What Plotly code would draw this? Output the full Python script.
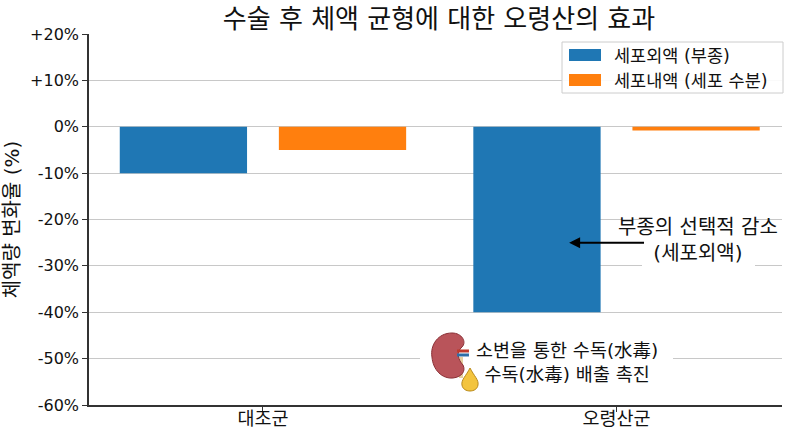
import plotly.graph_objects as go

# data
groups = ["대조군", "오령산군"]
ecf_change = [-10, -40]      # 세포외액 (부종)
icf_change = [-5, -0.8]      # 세포내액 (세포 수분)
series_names = ["세포외액 (부종)", "세포내액 (세포 수분)"]
y_ticks = [20, 10, 0, -10, -20, -30, -40, -50, -60]
y_tick_text = ["+20%", "+10%", "0%", "-10%", "-20%", "-30%", "-40%", "-50%", "-60%"]

FONT = "DejaVu Sans, Noto Sans CJK KR, sans-serif"
BLUE = "#1f77b4"
ORANGE = "#ff7f0e"
colors = [BLUE, ORANGE]

W, H = 800, 436
# plot area in pixels
PX_L, PX_R, PX_T, PX_B = 89, 782, 34, 405


def px(x):
    return (x - PX_L) / (PX_R - PX_L)


def py(y):
    return (PX_B - y) / (PX_B - PX_T)


def P(x, y):
    """pixel -> paper coords string for svg paths"""
    return f"{px(x):.4f},{py(y):.4f}"


fig = go.Figure()
fig.add_trace(go.Bar(x=groups, y=ecf_change, name=series_names[0],
                     marker=dict(color=BLUE, line=dict(width=0))))
fig.add_trace(go.Bar(x=groups, y=icf_change, name=series_names[1],
                     marker=dict(color=ORANGE, line=dict(width=0))))

# white patches behind the annotation texts (they hide the grid like in the original)
shapes = [
    dict(type="rect", xref="paper", yref="paper", x0=px(642), x1=px(755), y0=py(276), y1=py(206),
         fillcolor="white", line=dict(width=0), layer="above"),
    dict(type="rect", xref="paper", yref="paper", x0=px(420), x1=px(673), y0=py(396), y1=py(328),
         fillcolor="white", line=dict(width=0), layer="above"),
]

# kidney icon + drop
kidney = (f"M{P(452,333)} C{P(438,333)} {P(430,345)} {P(432,357)} "
          f"C{P(433,370)} {P(442,379)} {P(453,378)} "
          f"C{P(462,377)} {P(466,371)} {P(463,365)} "
          f"C{P(458,360)} {P(456,352)} {P(462,347)} "
          f"C{P(467,342)} {P(462,333)} {P(452,333)} Z")
drop = (f"M{P(470,368)} C{P(466,376)} {P(461,380)} {P(462,385)} "
        f"C{P(463,393)} {P(477,393)} {P(478,385)} "
        f"C{P(479,380)} {P(474,376)} {P(470,368)} Z")
shapes += [
    dict(type="path", path=f"M{P(461,357)} L{P(461,378)}", xref="paper", yref="paper",
         line=dict(color="#e6cfa0", width=4), layer="above"),
    dict(type="path", path=kidney, xref="paper", yref="paper",
         fillcolor="#b9545a", line=dict(color="#8a3036", width=1), layer="above"),
    dict(type="path", path=f"M{P(457,351)} L{P(469,351)}", xref="paper", yref="paper",
         line=dict(color="#c0392b", width=3), layer="above"),
    dict(type="path", path=f"M{P(457,355)} L{P(469,355)}", xref="paper", yref="paper",
         line=dict(color="#2e6ea6", width=3), layer="above"),
    dict(type="path", path=drop, xref="paper", yref="paper",
         fillcolor="#f3c43e", line=dict(color="#b8891c", width=1), layer="above"),
]

# legend box drawn by hand so the swatches are wide bars like the original
shapes.append(dict(type="rect", xref="paper", yref="paper", x0=px(562), x1=px(783),
                   y0=py(93), y1=py(42), fillcolor="rgba(255,255,255,0.9)",
                   line=dict(color="#cccccc", width=1), layer="above"))
annotations = []
for i, (name, col) in enumerate(zip(series_names, colors)):
    yc = 55 + 25 * i
    shapes.append(dict(type="rect", xref="paper", yref="paper", x0=px(569), x1=px(601),
                       y0=py(yc + 6), y1=py(yc - 6), fillcolor=col,
                       line=dict(width=0), layer="above"))
    annotations.append(dict(x=px(612), y=py(yc + 1), xref="paper", yref="paper",
                            xanchor="left", yanchor="middle", text=name, showarrow=False,
                            font=dict(family=FONT, size=17.5, color="#111")))

annotations += [
    # arrow
    dict(x=0.866, y=-25, ax=1.082, ay=-25, xref="x", yref="y", axref="x", ayref="y",
         text="", showarrow=True, arrowhead=2, arrowsize=1.1, arrowwidth=2,
         arrowcolor="black"),
    dict(x=1.23, y=-24.4, xref="x", yref="y", text="부종의 선택적 감소<br>(세포외액)",
         showarrow=False, font=dict(family=FONT, size=20, color="#111")),
    dict(x=0.86, y=-50.9, xref="x", yref="y",
         text="소변을 통한 수독(水毒)<br>수독(水毒) 배출 촉진",
         showarrow=False, font=dict(family=FONT, size=18.5, color="#111")),
]

fig.update_layout(
    width=W, height=H,
    margin=dict(l=PX_L, r=W - PX_R, t=PX_T, b=H - PX_B, autoexpand=False),
    paper_bgcolor="white", plot_bgcolor="white",
    font=dict(family=FONT, color="#111"),
    title=dict(text="수술 후 체액 균형에 대한 오령산의 효과",
               x=439 / W, xanchor="center",
               y=1 - 18.5 / H, yanchor="middle", automargin=False,
               font=dict(family=FONT, size=26, color="#111")),
    barmode="group", bargap=0.1, bargroupgap=0.2,
    showlegend=False,
    shapes=shapes,
    annotations=annotations,
)
fig.update_xaxes(range=[-0.492, 1.468], showline=True, linecolor="#333", linewidth=1.5,
                 ticks="outside", ticklen=5, tickcolor="#333", showgrid=False,
                 automargin=False, ticklabelstandoff=-9,
                 tickfont=dict(family=FONT, size=18.5, color="#111"))
fig.update_yaxes(range=[-60, 20], tickvals=y_ticks, ticktext=y_tick_text,
                 showline=True, linecolor="#333", linewidth=1.5,
                 ticks="outside", ticklen=5, tickcolor="#333",
                 showgrid=True, gridcolor="#c8c8c8", gridwidth=1,
                 zeroline=True, zerolinecolor="#c8c8c8", zerolinewidth=1,
                 automargin=False,
                 tickfont=dict(family=FONT, size=16, color="#111"),
                 title=dict(text="체액량 변화율 (%)", standoff=6,
                            font=dict(family=FONT, size=20, color="#111")))

# the page body has a default 8px margin; drop it so the figure sits at the corner
fig.write_html("out.html", config={"displayModeBar": False},
               post_script="document.body.style.margin='0px';")
